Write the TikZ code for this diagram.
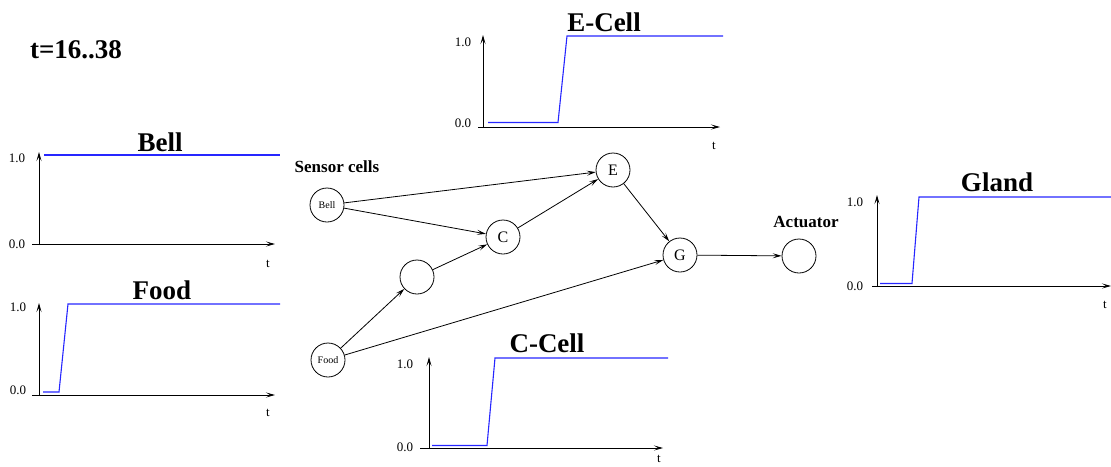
\documentclass[tikz,border=0pt]{standalone}
\usepackage{fontspec}
\setmainfont{Liberation Serif}
\usetikzlibrary{arrows.meta}
\definecolor{sig}{rgb}{0.15,0.15,1}
\tikzset{
  cell/.style={draw, circle, line width=0.8pt, minimum size=34pt, inner sep=0pt, font=\fontsize{16}{18}\selectfont},
  small/.style={font=\fontsize{10}{12}\selectfont},
  conn/.style={line width=0.8pt, -{Stealth[length=9pt,width=5pt,inset=4pt]}},
  axis/.style={line width=0.8pt, -{Stealth[length=9pt,width=5pt,inset=4pt]}},
  signal/.style={sig, line width=1.1pt},
  ptitle/.style={font=\fontsize{27}{30}\selectfont\bfseries},
  tick/.style={font=\fontsize{13}{15}\selectfont},
  lbl/.style={font=\fontsize{17}{19}\selectfont\bfseries}
}
\begin{document}
\begin{tikzpicture}[x=1pt,y=-1pt]
\useasboundingbox (0,0) rectangle (1111,466);

\node[ptitle] (time) at (76,50) {t=16..38};

% Bell plot
\node[ptitle] (bellT) at (160,142) {Bell};
\draw[axis] (39,245) -- (39,152);
\draw[axis] (32,244) -- (275,244);
\node[tick] (b1) at (17,158) {1.0};
\node[tick] (b0) at (17,244) {0.0};
\node[tick] (bt) at (268,264) {t};
\draw[signal] (44,155) -- (280,155);

% Food plot
\node[ptitle] (foodT) at (162,290) {Food};
\draw[axis] (39,396) -- (39,303);
\draw[axis] (32,395) -- (275,395);
\node[tick] (f1) at (18,307) {1.0};
\node[tick] (f0) at (18,390) {0.0};
\node[tick] (ft) at (268,413) {t};
\draw[signal] (43,392) -- (59,392) -- (68,304) -- (280,304);

% E-Cell plot
\node[ptitle] (eT) at (604,22) {E-Cell};
\draw[axis] (483,128) -- (483,35);
\draw[axis] (478,127) -- (720,127);
\node[tick] (e1) at (463,42) {1.0};
\node[tick] (e0) at (463,123) {0.0};
\node[tick] (et) at (714,146) {t};
\draw[signal] (488,122.5) -- (558,122.5) -- (567,36) -- (723,36);

% C-Cell plot
\node[ptitle] (cT) at (547,343) {C-Cell};
\draw[axis] (429,449) -- (429,357);
\draw[axis] (420,448) -- (663,448);
\node[tick] (c1) at (405,364) {1.0};
\node[tick] (c0) at (405,447) {0.0};
\node[tick] (ct) at (659,459) {t};
\draw[signal] (432,445.5) -- (487,445.5) -- (495,358) -- (668,358);

% Gland plot
\node[ptitle] (gT) at (997,182) {Gland};
\draw[axis] (877,287) -- (877,195);
\draw[axis] (872,286) -- (1111,286);
\node[tick] (g1) at (855,202) {1.0};
\node[tick] (g0) at (855,286) {0.0};
\node[tick] (gt) at (1105,305) {t};
\draw[signal] (880,283.5) -- (912,283.5) -- (919,197) -- (1111,197);

% network
\node[lbl] (sensor) at (337,167) {Sensor cells};
\node[lbl] (actlbl) at (806,222) {Actuator};
\node[cell, small] (bell) at (327,205) {Bell};
\node[cell, small] (food) at (328,360) {Food};
\node[cell] (u) at (417,277) {};
\node[cell] (C) at (503,237) {C};
\node[cell] (E) at (613,170) {E};
\node[cell] (G) at (680,255) {G};
\node[cell] (act) at (799,256) {};

\draw[conn] (bell) -- (E);
\draw[conn] (bell) -- (C);
\draw[conn] (food) -- (u);
\draw[conn] (u) -- (C);
\draw[conn] (C) -- (E);
\draw[conn] (E) -- (G);
\draw[conn] (food) -- (G);
\draw[conn] (G) -- (act);
\end{tikzpicture}
\end{document}
